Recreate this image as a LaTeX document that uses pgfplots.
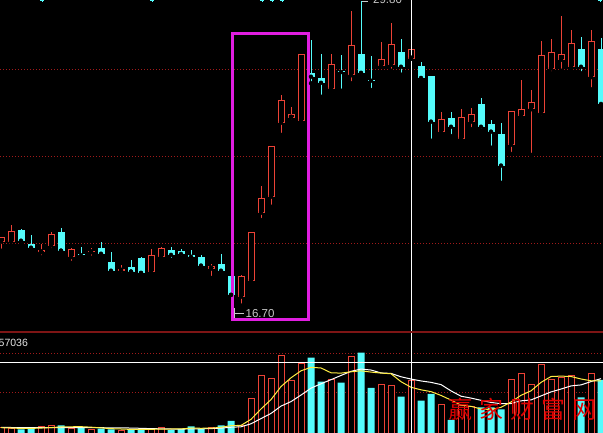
\documentclass[border=0pt]{standalone}
\usepackage{fontspec}
\setmainfont{Liberation Sans}
\newfontfamily\cjk{Noto Sans CJK SC}
\usepackage{pgfplots}
\usepackage{pgfplotstable}
\pgfplotsset{compat=1.18}
\definecolor{upred}{HTML}{EC4236}
\definecolor{downcyan}{HTML}{54FCFC}
\definecolor{gridred}{HTML}{A01A1A}
\definecolor{sepred}{HTML}{7E1515}
\definecolor{boxmag}{HTML}{E01EE0}
\definecolor{mayellow}{HTML}{FFEE44}
\definecolor{labgray}{HTML}{C8C8C8}

% daily candles, k = day index
\pgfplotstableread{
k o h l c
0 19.45 19.64 19.06 19.64
1 19.45 20.17 19.45 19.91
4 18.99 19.34 18.78 19.09
5 19.28 19.86 19.09 19.78
7 18.78 19.19 18.54 19.12
9 18.99 19.18 18.76 19.05
12 18.20 18.43 18.03 18.26
15 18.16 19.12 18.03 18.86
16 18.78 19.23 18.78 19.16
21 18.29 18.49 17.89 18.40
24 17.08 18.02 16.70 17.97
25 17.77 19.86 17.68 19.86
26 20.69 21.84 20.38 21.31
27 21.38 23.56 20.95 23.56
28 24.56 25.76 24.04 25.54
29 24.78 25.23 24.61 24.93
30 24.65 27.52 24.61 27.52
33 26.03 27.52 26.03 27.09
35 26.60 29.37 26.26 27.91
38 27.02 28.03 27.02 27.29
39 27.05 28.85 26.80 27.95
41 27.32 29.15 27.32 27.72
44 24.18 25.02 24.05 24.72
46 23.88 25.15 23.88 24.81
47 24.61 25.21 24.29 24.93
51 23.62 25.07 23.22 25.07
52 24.87 26.40 24.72 25.15
53 25.14 25.97 23.18 25.44
54 24.97 28.08 24.80 27.48
55 26.89 28.16 26.69 27.60
56 27.27 29.15 26.80 27.52
57 26.97 28.55 26.87 27.99
59 26.52 28.55 26.00 28.08
}\uptab
\pgfplotstableread{
k o h l c
2 19.95 19.99 19.34 19.49
3 19.35 19.74 19.15 19.19
6 19.86 20.04 19.06 19.06
8 18.93 19.22 18.76 18.86
10 19.18 19.43 18.80 18.93
11 18.57 19.00 18.16 18.20
13 18.36 18.66 18.16 18.16
14 18.75 18.80 18.09 18.11
17 19.09 19.23 18.67 18.88
18 19.06 19.13 18.76 18.92
19 18.89 19.09 18.69 18.80
20 18.79 18.88 18.37 18.42
22 18.49 18.92 18.11 18.20
23 17.97 17.97 17.16 17.16
31 26.71 28.12 26.26 26.54
32 26.49 27.52 25.68 26.28
34 26.80 27.48 25.94 26.74
36 27.52 29.80 26.57 26.71
37 26.41 27.43 25.97 26.37
40 27.60 28.15 26.63 26.97
42 27.00 27.17 26.37 26.49
43 26.57 26.57 23.79 24.61
45 24.78 25.02 23.99 24.39
48 25.37 25.63 24.22 24.39
49 24.51 24.68 23.49 24.18
50 24.08 24.54 21.98 22.72
58 27.73 28.25 26.69 26.97
60 27.73 28.21 25.33 25.37
}\downtab

% volume
\pgfplotstableread{
k v
0 5300
1 4700
4 6300
5 7700
7 4700
9 3700
12 3000
15 4700
16 5700
21 6000
24 8000
25 34700
26 57700
27 54700
28 77000
29 52000
30 69500
33 53000
35 76000
38 48000
39 47000
41 52300
44 28000
46 27000
47 26300
51 53700
52 59700
53 48000
54 68000
55 53000
56 55700
57 57700
59 59000
}\upvol
\pgfplotstableread{
k v
2 3700
3 4700
6 7700
8 5300
10 4300
11 3700
13 3300
14 3300
17 3000
18 4000
19 6700
20 4300
22 7700
23 12000
31 75300
32 51300
34 50300
36 80300
37 45000
40 36300
42 32300
43 39000
45 13000
48 25700
49 25700
50 23700
58 35700
60 53000
}\downvol

% 5- and 10-day volume averages
\pgfplotstableread{
k v
0 5300
1 5000
2 4570
3 4600
4 4940
5 5420
6 6020
7 6220
8 6340
9 5820
10 5140
11 4340
12 4000
13 3600
14 3520
15 3600
16 4000
17 4000
18 4140
19 4820
20 4740
21 4800
22 5740
23 7340
24 7600
25 13680
26 24020
27 33420
28 46420
29 55220
30 62180
31 65700
32 65020
33 60220
34 59880
35 61180
36 62180
37 60920
38 59920
39 59260
40 51320
41 45720
42 43180
43 41380
44 37580
45 32920
46 27860
47 26660
48 24000
49 23540
50 25680
51 31020
52 37700
53 42160
54 50620
55 56480
56 56880
57 56480
58 54020
59 52220
60 52220
}\mafive
\pgfplotstableread{
k v
0 5600
1 5500
2 5400
3 5400
4 5300
5 5400
6 5500
7 5500
8 5500
9 5380
10 5280
11 5180
12 5110
13 4970
14 4670
15 4370
16 4170
17 4000
18 3870
19 4170
20 4170
21 4400
22 4870
23 5740
24 6210
25 9210
26 14410
27 19580
28 26880
29 31410
30 37930
31 44860
32 49220
33 53320
34 57550
35 61680
36 63940
37 62970
38 60070
39 59570
40 56250
41 53950
42 52050
43 50650
44 48420
45 42120
46 36790
47 34920
48 32690
49 30560
50 29300
51 29440
52 32180
53 33080
54 37080
55 41080
56 43950
57 47090
58 48090
59 51420
60 54350
}\maten

\pgfplotsset{
  panel/.style={
    scale only axis, anchor=south west, width=603bp,
    xmin=-0.1, xmax=60.2,
    axis line style={draw=none},
    xtick=\empty, yticklabels={}, major tick length=0pt,
    scaled y ticks=false,
    ymajorgrids,
    major grid style={gridred, line width=1bp, dash pattern=on 1bp off 2bp},
  },
  wick/.style={only marks, mark=none,
    error bars/.cd, y dir=plus, y explicit, error mark=none,
    error bar style={draw=#1, line width=1bp, solid}},
  body/.style 2 args={only marks, mark=none,
    error bars/.cd, y dir=plus, y explicit, error mark=none,
    error bar style={draw=#1, line width=#2, solid}},
}

\begin{document}
\begin{tikzpicture}
\useasboundingbox (0,0) rectangle (603bp,433bp);
\fill[black] (0,0) rectangle (603bp,433bp);

% price panel
\begin{axis}[panel, at={(0,101bp)}, height=332bp,
  ymin=15.564, ymax=29.84, ytick={19.348,23.089,26.83}]
\addplot[wick=upred] table[x=k, y=l, y error plus expr={\thisrow{h}-\thisrow{l}}] {\uptab};
\addplot[wick=downcyan] table[x=k, y=l, y error plus expr={\thisrow{h}-\thisrow{l}}] {\downtab};
\addplot[body={upred}{7bp}] table[x=k, y=o, y error plus expr={max(\thisrow{c}-\thisrow{o},0.043)}] {\uptab};
\addplot[body={black}{5bp}] table[x=k, y expr={\thisrow{o}+0.043}, y error plus expr={max(\thisrow{c}-\thisrow{o}-0.086,0)}] {\uptab};
\addplot[body={downcyan}{7bp}] table[x=k, y=c, y error plus expr={max(\thisrow{o}-\thisrow{c},0.043)}] {\downtab};
\addplot[only marks, mark=+, mark size=2.2bp, downcyan, line width=0.8bp]
  coordinates {(4.1,29.84) (15.1,29.84) (26.1,29.84) (27.1,29.84) (28.1,29.84) (59.9,29.84)};
\draw[boxmag, line width=3bp] (axis cs:23.17,28.408) rectangle (axis cs:30.77,16.11);
\draw[white, line width=1bp] (axis cs:41,15.564) -- (axis cs:41,29.84);
\end{axis}

% volume panel
\begin{axis}[panel, at={(0,0)}, height=101bp,
  ymin=0, ymax=101000, ytick={40300,79700}]
\addplot[ybar, bar width=7bp, bar shift=0pt, draw=none, fill=downcyan] table[x=k, y=v] {\downvol};
\addplot[ybar, bar width=6bp, bar shift=0pt, draw=upred, line width=1bp, fill=black] table[x=k, y=v] {\upvol};
\addplot[white, line width=1bp] table[x=k, y=v] {\maten};
\addplot[mayellow, line width=1bp] table[x=k, y=v] {\mafive};
\draw[white, line width=1bp] (axis cs:-0.1,70300) -- (axis cs:60.2,70300);
\draw[white, line width=1bp] (axis cs:41,0) -- (axis cs:41,101000);
\end{axis}

\draw[sepred, line width=1.2bp] (0,101bp) -- (603bp,101bp);

% labels
\node[anchor=base west, inner sep=0, text=white!90!black, font=\fontsize{10.5bp}{12bp}\selectfont]
  at (-1.5bp,86bp) {57036};
\draw[labgray, line width=0.8bp] (234.5bp,115bp) -- (234.5bp,125bp) (234.5bp,120bp) -- (244bp,120bp);
\node[anchor=base west, inner sep=0, text=labgray, font=\fontsize{11.5bp}{13bp}\selectfont]
  at (245.5bp,115bp) {16.70};
\draw[labgray, line width=0.8bp] (362bp,432bp) -- (368bp,432bp);
\node[anchor=base west, inner sep=0, text=labgray, font=\fontsize{11.5bp}{13bp}\selectfont]
  at (373bp,429bp) {29.80};
\node[text=red!88!black, inner sep=0, font=\cjk\fontsize{24bp}{26bp}\selectfont]
  at (522.5bp,24bp) {赢\hspace{7bp}家\hspace{7bp}财\hspace{7bp}富\hspace{7bp}网};
\end{tikzpicture}
\end{document}
